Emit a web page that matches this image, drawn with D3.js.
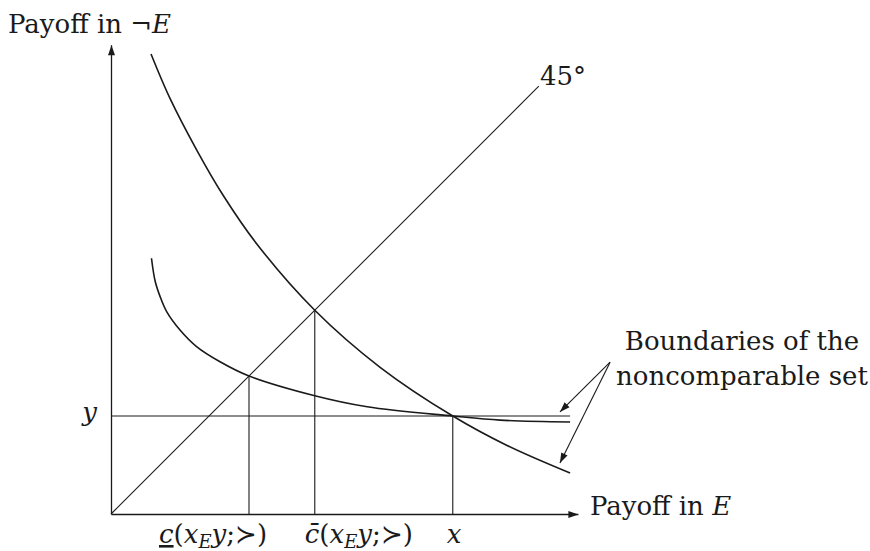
<!DOCTYPE html>
<html>
<head>
<meta charset="utf-8">
<script src="https://cdn.jsdelivr.net/npm/d3@7"></script>
<style>
  body { margin: 0; background: #fff; }
  svg { display: block; }
  text { font-family: "DejaVu Serif", "Liberation Serif", serif; font-size: 26px; fill: #1a1a1a; }
  .it { font-style: italic; }
</style>
</head>
<body>
<svg id="chart" width="870" height="551"></svg>
<script>
// upper boundary (steep) curve
var steepX = [0.87, 1.28, 1.87, 2.43, 3.17, 4.43, 5.85, 7.43, 8.61, 9.98];
var steepY = [10.0, 9.04, 7.90, 6.94, 5.87, 4.43, 3.19, 2.13, 1.49, 0.89];
// lower boundary (flat) curve
var flatX = [0.88, 0.96, 1.07, 1.21, 1.50, 1.86, 2.37, 3.0, 4.43, 5.57, 7.43, 8.46, 9.98];
var flatY = [5.56, 5.06, 4.72, 4.40, 4.0, 3.64, 3.31, 3.0, 2.57, 2.33, 2.13, 2.04, 2.0];
// marked points on the E axis
var markX = [3.0, 4.43, 7.43];
var yLevel = 2.13;
var diagEnd = 9.3;
var axisEnd = [10.15, 10.2];

var svg = d3.select("#chart");

var x = d3.scaleLinear().domain([0, 10]).range([111, 571]);
var y = d3.scaleLinear().domain([0, 10]).range([514, 54]);

var ink = "#1a1a1a";

var defs = svg.append("defs");
defs.append("marker")
    .attr("id", "arrow")
    .attr("viewBox", "0 -4 10 8")
    .attr("refX", 10).attr("refY", 0)
    .attr("markerUnits", "userSpaceOnUse")
    .attr("markerWidth", 11).attr("markerHeight", 8)
    .attr("orient", "auto")
  .append("path")
    .attr("d", "M0,-3.5L10,0L0,3.5Z")
    .attr("fill", ink);

// axes: no ticks, just arrowed domain lines
var xAxisScale = x.copy().domain([0, axisEnd[0]]).range([x(0), x(axisEnd[0])]);
var yAxisScale = y.copy().domain([0, axisEnd[1]]).range([y(0), y(axisEnd[1])]);

svg.append("g")
    .attr("transform", "translate(0," + y(0) + ")")
    .call(d3.axisBottom(xAxisScale).tickValues([]).tickSizeOuter(0));
svg.append("g")
    .attr("transform", "translate(" + x(0) + ",0)")
    .call(d3.axisLeft(yAxisScale).tickValues([]).tickSizeOuter(0));
svg.selectAll(".domain")
    .attr("stroke", ink)
    .attr("stroke-width", 1.3)
    .attr("marker-end", "url(#arrow)");

// 45 degree line
svg.append("line")
    .attr("x1", x(0)).attr("y1", y(0))
    .attr("x2", x(diagEnd)).attr("y2", y(diagEnd))
    .attr("stroke", ink).attr("stroke-width", 1.1);

// horizontal line at y
svg.append("line")
    .attr("x1", x(0)).attr("y1", y(yLevel))
    .attr("x2", x(9.98)).attr("y2", y(yLevel))
    .attr("stroke", ink).attr("stroke-width", 1.1);

// verticals down to the E axis
var markYs = [3.0, 4.43, yLevel];
svg.selectAll(".drop")
    .data(markX)
    .enter().append("line")
    .attr("class", "drop")
    .attr("x1", function(d) { return x(d); })
    .attr("x2", function(d) { return x(d); })
    .attr("y1", function(d, i) { return y(markYs[i]); })
    .attr("y2", y(0))
    .attr("stroke", ink).attr("stroke-width", 1.1);

var line = d3.line()
    .x(function(d) { return x(d[0]); })
    .y(function(d) { return y(d[1]); })
    .curve(d3.curveCatmullRom.alpha(0.5));

svg.append("path")
    .attr("d", line(d3.zip(steepX, steepY)))
    .attr("fill", "none").attr("stroke", ink).attr("stroke-width", 1.6);
svg.append("path")
    .attr("d", line(d3.zip(flatX, flatY)))
    .attr("fill", "none").attr("stroke", ink).attr("stroke-width", 1.6);

// pointer arrows from the note to both curves
var noteAt = [10.85, 3.30];
var pointTo = [[9.76, 2.22], [9.76, 1.11]];
svg.selectAll(".pointer")
    .data(pointTo)
    .enter().append("line")
    .attr("class", "pointer")
    .attr("x1", x(noteAt[0])).attr("y1", y(noteAt[1]))
    .attr("x2", function(d) { return x(d[0]); })
    .attr("y2", function(d) { return y(d[1]); })
    .attr("stroke", ink).attr("stroke-width", 1.1)
    .attr("marker-end", "url(#arrow)");

// labels
var t = svg.append("text").attr("x", 8).attr("y", 33);
t.append("tspan").text("Payoff in \u00ac");
t.append("tspan").attr("class", "it").text("E");

svg.append("text").attr("x", 540).attr("y", 85).text("45\u00b0");

var t2 = svg.append("text").attr("x", x(axisEnd[0]) + 12).attr("y", y(0) + 1);
t2.append("tspan").text("Payoff in ");
t2.append("tspan").attr("class", "it").text("E");

svg.append("text").attr("class", "it")
    .attr("x", x(0) - 14).attr("y", y(yLevel) + 5)
    .attr("text-anchor", "end").text("y");

svg.append("text").attr("x", 742).attr("y", 350)
    .attr("text-anchor", "middle").text("Boundaries of the");
svg.append("text").attr("x", 742).attr("y", 385)
    .attr("text-anchor", "middle").text("noncomparable set");

function cLabel(cx, cGlyph, deco) {
  var lab = svg.append("text").attr("x", cx).attr("y", 543);
  var c = lab.append("tspan").attr("class", "it").text(cGlyph);
  if (deco) c.style("text-decoration", deco);
  lab.append("tspan").text("(");
  lab.append("tspan").attr("class", "it").text("x");
  lab.append("tspan").attr("class", "it").attr("dy", 5).style("font-size", "18px").text("E");
  lab.append("tspan").attr("class", "it").attr("dy", -5).text("y");
  lab.append("tspan").text(";\u227b)");
}
cLabel(x(markX[0]) - 90, "c", "underline");
cLabel(x(markX[1]) - 10, "c\u0304", null);

svg.append("text").attr("class", "it")
    .attr("x", x(markX[2]) - 6).attr("y", 543).text("x");
</script>
</body>
</html>
